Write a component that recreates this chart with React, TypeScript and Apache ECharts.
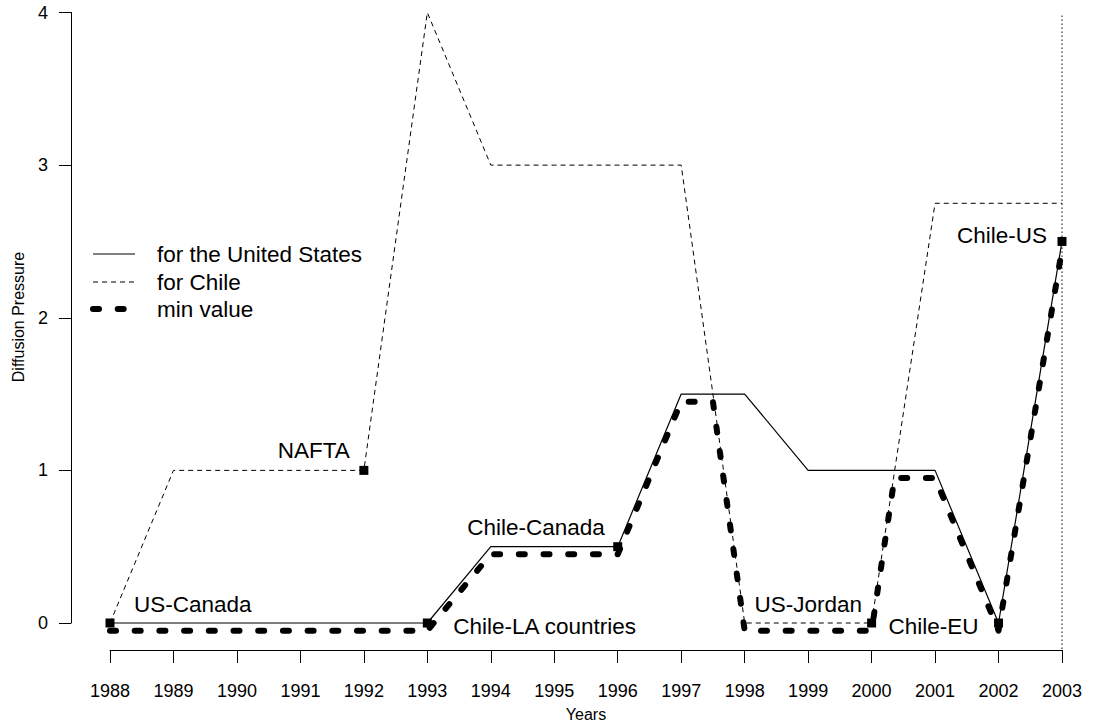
import React, { useEffect, useRef } from "react";
import * as echarts from "echarts";

// ---- data ----
const years = [1988, 1989, 1990, 1991, 1992, 1993, 1994, 1995, 1996, 1997, 1998, 1999, 2000, 2001, 2002, 2003];
const usPressure = [0, 0, 0, 0, 0, 0, 0.5, 0.5, 0.5, 1.5, 1.5, 1, 1, 1, 0, 2.5];
const chilePressure = [0, 1, 1, 1, 1, 4, 3, 3, 3, 3, 0, 0, 0, 2.75, 2.75, 2.75];

// min value curve (drawn slightly below, as in the original)
const minYears = [1988, 1989, 1990, 1991, 1992, 1993, 1994, 1995, 1996, 1997, 1997.5, 1998, 1999, 2000, 2000.36, 2001, 2002, 2003];
const minValues = [-0.05, -0.05, -0.05, -0.05, -0.05, -0.05, 0.45, 0.45, 0.45, 1.45, 1.45, -0.05, -0.05, -0.05, 0.95, 0.95, -0.05, 2.45];

// agreements
const eventYears = [1988, 1992, 1993, 1996, 2000, 2002, 2003];
const eventValues = [0, 1, 0, 0.5, 0, 0, 2.5];
const eventNames = ["US-Canada", "NAFTA", "Chile-LA countries", "Chile-Canada", "US-Jordan", "Chile-EU", "Chile-US"];

// vertical dotted reference line
const refYear = 2003;
const refRange = [-0.17, 3.98];

const yTicks = [0, 1, 2, 3, 4];
const legendNames = ["for the United States", "for Chile", "min value"];

// label layout (style only)
const labelLayout: [string, number, number][] = [
  ["right", 19.5, -19],
  ["left", 9.5, -20],
  ["right", 21.5, 3],
  ["left", 8.5, -19],
  ["left", 5, -19],
  ["left", 15.5, 3],
  ["left", 10.5, -6],
];

const FONT = "'Liberation Sans', Arial, Helvetica, sans-serif";

export default function App() {
  const ref = useRef<HTMLDivElement>(null);

  useEffect(() => {
    if (!ref.current) return;
    const chart = echarts.init(ref.current, undefined, { renderer: "svg" });

    const legendY = [254, 282, 309];
    const legendGraphics: any[] = [
      {
        type: "line",
        shape: { x1: 93, y1: legendY[0], x2: 135, y2: legendY[0] },
        style: { stroke: "#000", lineWidth: 1.2 },
      },
      {
        type: "line",
        shape: { x1: 93, y1: legendY[1], x2: 135, y2: legendY[1] },
        style: { stroke: "#000", lineWidth: 1, lineDash: [5, 4] },
      },
      {
        type: "line",
        shape: { x1: 93, y1: legendY[2], x2: 135, y2: legendY[2] },
        style: { stroke: "#000", lineWidth: 6, lineDash: [6, 18.7], lineCap: "round" },
      },
      ...legendNames.map((n, i) => ({
        type: "text",
        x: 157,
        y: legendY[i],
        style: { text: n, font: `22.5px ${FONT}`, fill: "#000", textAlign: "left", textVerticalAlign: "middle" },
      })),
      {
        type: "text",
        x: 586,
        y: 714,
        style: { text: "Years", font: `16px ${FONT}`, fill: "#000", textAlign: "center", textVerticalAlign: "middle" },
      },
      {
        type: "text",
        x: 18,
        y: 317,
        rotation: Math.PI / 2,
        style: { text: "Diffusion Pressure", font: `16px ${FONT}`, fill: "#000", textAlign: "center", textVerticalAlign: "middle" },
      },
    ];

    chart.setOption({
      animation: false,
      backgroundColor: "#fff",
      grid: { left: 110, right: 31, top: 12.5, bottom: 104, containLabel: false },
      xAxis: {
        type: "value",
        min: 1988,
        max: 2003,
        interval: 1,
        offset: 27,
        axisLine: { show: true, onZero: false, lineStyle: { color: "#000", width: 1 } },
        axisTick: { show: true, length: 13, inside: false, lineStyle: { color: "#000" } },
        axisLabel: {
          show: true,
          margin: 32,
          fontSize: 18,
          fontFamily: FONT,
          color: "#000",
          formatter: (v: number) => String(v),
        },
        splitLine: { show: false },
      },
      yAxis: {
        type: "value",
        min: yTicks[0],
        max: yTicks[yTicks.length - 1],
        interval: 1,
        offset: 39,
        axisLine: { show: true, onZero: false, lineStyle: { color: "#000", width: 1 } },
        axisTick: { show: true, length: 12, inside: false, lineStyle: { color: "#000" } },
        axisLabel: {
          show: true,
          margin: 23,
          fontSize: 18,
          fontFamily: FONT,
          color: "#000",
          formatter: (v: number) => String(v),
        },
        splitLine: { show: false },
      },
      graphic: legendGraphics,
      series: [
        {
          type: "line",
          name: "for the United States",
          data: years.map((y, i) => [y, usPressure[i]]),
          symbol: "none",
          clip: false,
          lineStyle: { color: "#000", width: 1.2 },
          z: 3,
        },
        {
          type: "line",
          name: "for Chile",
          data: years.map((y, i) => [y, chilePressure[i]]),
          symbol: "none",
          clip: false,
          lineStyle: { color: "#000", width: 1, type: [5, 4] },
          z: 3,
        },
        {
          type: "line",
          name: "min value",
          data: minYears.map((y, i) => [y, minValues[i]]),
          symbol: "none",
          clip: false,
          lineStyle: { color: "#000", width: 6, type: [6, 18.7], cap: "round", join: "round" },
          z: 4,
        },
        {
          type: "line",
          name: "ref",
          data: refRange.map((v) => [refYear, v]),
          symbol: "none",
          clip: false,
          lineStyle: { color: "#000", width: 1, type: [1.5, 2.5] },
          z: 2,
        },
        {
          type: "scatter",
          name: "agreements",
          data: eventYears.map((y, i) => ({
            value: [y, eventValues[i]],
            label: {
              show: true,
              formatter: eventNames[i],
              position: labelLayout[i][0],
              distance: labelLayout[i][1],
              offset: [0, labelLayout[i][2]],
              fontSize: 22.5,
              fontFamily: FONT,
              color: "#000",
              opacity: 1,
            },
          })),
          symbol: "rect",
          symbolSize: 9,
          clip: false,
          itemStyle: { color: "#000", opacity: 1 },
          emphasis: { disabled: true },
          z: 6,
        },
      ],
    });

    return () => chart.dispose();
  }, []);

  return (
    <div
      ref={ref}
      style={{ position: "fixed", left: 0, top: 0, width: 1093, height: 727, background: "#fff" }}
    />
  );
}
